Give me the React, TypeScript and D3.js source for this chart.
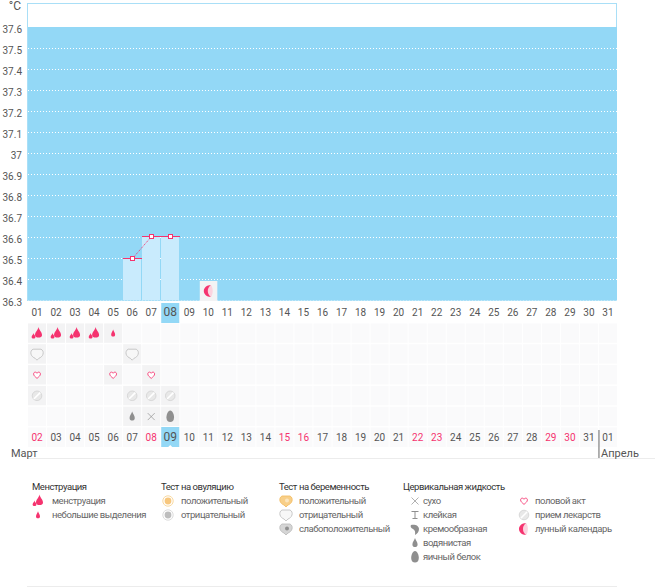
import * as d3 from 'd3';

const tempTicks = [37.6, 37.5, 37.4, 37.3, 37.2, 37.1, 37, 36.9, 36.8, 36.7, 36.6, 36.5, 36.4, 36.3];
const cycleDays = ['01','02','03','04','05','06','07','08','09','10','11','12','13','14','15','16','17','18','19','20','21','22','23','24','25','26','27','28','29','30','31'];
const calendarDays = ['02','03','04','05','06','07','08','09','10','11','12','13','14','15','16','17','18','19','20','21','22','23','24','25','26','27','28','29','30','31','01'];
const redDays = ['02','08','15','16','22','23','29','30'];

const tempDays = ['06', '07', '08'];
const tempValues = [36.5, 36.6, 36.6];
const moonDays = ['10'];

const rows = ['menses', 'pregnancy', 'sex', 'pill', 'fluid'];
const mensesRow = [['01','flow'],['02','flow'],['03','flow'],['04','flow'],['05','spot']];
const pregnancyRow = [['01','pregNeg'],['06','pregNeg']];
const sexRow = [['01','heart'],['05','heart'],['07','heart']];
const pillRow = [['01','pill'],['06','pill'],['07','pill'],['08','pill']];
const fluidRow = [['06','watery'],['07','dry'],['08','egg']];

const legendMenses = [['flow','менструация'],['spot','небольшие выделения']];
const legendOvulation = [['ovuPos','положительный'],['ovuNeg','отрицательный']];
const legendPregnancy = [['pregPos','положительный'],['pregNeg','отрицательный'],['pregWeak','слабоположительный']];
const legendFluid = [['dry','сухо'],['sticky','клейкая'],['creamy','кремообразная'],['watery','водянистая'],['egg','яичный белок']];
const legendOther = [['heart','половой акт'],['pill','прием лекарств'],['moon','лунный календарь']];

const FONT = 'Roboto, "Noto Sans", sans-serif';
const BLUE = '#93d8f6';
const PINK = '#f5336f';
const GREY = '#8f8f8f';
const TEXT = '#555';

const x = d3.scaleBand().domain(cycleDays).range([27.5, 617.5]);
const xBottom = d3.scaleBand().domain(calendarDays).range([27.5, 617.5]);
const y = d3.scaleLinear().domain([36.3, 37.6]).range([300, 27]);
// temperature marks sit on whole pixels, otherwise the pink goes grey over the blue
const yMark = d3.scaleLinear().domain([36.5, 36.6]).range([258.5, 236.5]);
const rowY = d3.scaleBand().domain(rows).range([323, 427]);
const cx = (d: string) => x(d)! + x.bandwidth() / 2;

const line = d3.line<number>()
  .x((_, i) => Math.round(cx(tempDays[i])) + 0.5)
  .y((d) => yMark(d));

// small glyphs, all drawn around 0,0
const Icon = ({ name, px, py }: { name: string; px: number; py: number }) => {
  const t = `translate(${px},${py})`;
  switch (name) {
    case 'flow':
      return (
        <g transform={t} fill={PINK}>
          <path d="M1.5,-6.5 C2.2,-3 5,-1.5 5,1.5 C5,3.5 3.4,4 1.5,4 C-0.4,4 -2,3.5 -2,1.5 C-2,-1.5 0.8,-3 1.5,-6.5Z" />
          <path d="M-3.5,-0.5 C-3.2,1.2 -1.6,2 -1.6,3.5 C-1.6,4.6 -2.5,5 -3.5,5 C-4.5,5 -5.4,4.6 -5.4,3.5 C-5.4,2 -3.8,1.2 -3.5,-0.5Z" />
        </g>
      );
    case 'spot':
      return <path transform={t} fill={PINK} d="M0,-3.8 C0.4,-2 2,-0.5 2,1.4 C2,2.8 1.1,3.2 0,3.2 C-1.1,3.2 -2,2.8 -2,1.4 C-2,-0.5 -0.4,-2 0,-3.8Z" />;
    case 'heart':
      return <path transform={`${t} scale(0.85)`} fill="#fff" stroke={PINK} strokeWidth={1} d="M0,4 C-2,2.2 -4,0.8 -4,-1.2 C-4,-2.8 -2.9,-3.4 -2,-3.4 C-1.1,-3.4 -0.4,-2.9 0,-2 C0.4,-2.9 1.1,-3.4 2,-3.4 C2.9,-3.4 4,-2.8 4,-1.2 C4,0.8 2,2.2 0,4Z" />;
    case 'pill':
      return (
        <g transform={t}>
          <circle r={4.8} fill="#e8e8e8" stroke="#cfcfcf" strokeWidth={0.7} />
          <line x1={-3.2} y1={3.2} x2={3.2} y2={-3.2} stroke="#fff" strokeWidth={1.6} />
        </g>
      );
    case 'dry':
      return <path transform={t} stroke={GREY} strokeWidth={0.7} d="M-3.5,-3.5 L3.5,3.5 M3.5,-3.5 L-3.5,3.5" />;
    case 'sticky':
      return <path transform={t} stroke={GREY} strokeWidth={1} fill="none" d="M-3.5,-3.5 H3.5 M0,-3.5 V3.5 M-2.5,3.5 H2.5" />;
    case 'creamy':
      return <path transform={t} fill={GREY} d="M-4,-4 C-1,-5 4,-4 4,0 C4,3 2,5 0,6 C0.5,3 0,1 -2,0 C-4,-0.5 -5,-3 -4,-4Z" />;
    case 'watery':
      return <path transform={t} fill={GREY} d="M0,-5 C0.8,-2.5 2.6,-1 2.6,1.5 C2.6,3.5 1.4,4 0,4 C-1.4,4 -2.6,3.5 -2.6,1.5 C-2.6,-1 -0.8,-2.5 0,-5Z" />;
    case 'egg':
      return <path transform={t} fill={GREY} d="M0,-6 C2.4,-6 3.8,-2 3.8,1 C3.8,4 2.2,5.5 0,5.5 C-2.2,5.5 -3.8,4 -3.8,1 C-3.8,-2 -2.4,-6 0,-6Z" />;
    case 'moon':
      return (
        <g transform={t}>
          <path fill="#fbd3df" d="M2,-6 C4.5,-4 4.5,4 2,6 C0,5 -1,2 -1,0 C-1,-2 0,-5 2,-6Z" />
          <path fill={PINK} d="M2,-6 C-2,-6 -5,-3.2 -5,0 C-5,3.2 -2,6 2,6 C-0.2,4.2 -1,2 -1,0 C-1,-2 -0.2,-4.2 2,-6Z" />
        </g>
      );
    case 'ovuPos':
    case 'ovuNeg': {
      const pos = name === 'ovuPos';
      return (
        <g transform={t}>
          <circle r={5.2} fill="#fff" stroke={pos ? '#f9d9a0' : '#dcdcdc'} strokeWidth={1} />
          <circle r={3.4} fill={pos ? '#f7c77e' : '#bdbdbd'} />
        </g>
      );
    }
    default: {
      // pregnancy test: rounded shield with a small tail
      const fill = name === 'pregPos' ? '#f8cf88' : name === 'pregWeak' ? '#d5d5d5' : '#f7f7f7';
      const stroke = name === 'pregPos' ? '#f3bd66' : name === 'pregWeak' ? '#bdbdbd' : '#c2c2c2';
      return (
        <g transform={t}>
          <path fill={fill} stroke={stroke} strokeWidth={0.9} d="M-4,-5 H4 C6,-4 6.5,-2 6,0 C5.5,2 3.5,3.5 2,4 L0,6 L-2,4 C-3.5,3.5 -5.5,2 -6,0 C-6.5,-2 -6,-4 -4,-5Z" />
          {name !== 'pregNeg' && <circle r={2} cx={1} cy={-0.5} fill={name === 'pregPos' ? '#fbe6bf' : '#8f8f8f'} />}
        </g>
      );
    }
  }
};

const Legend = ({ title, items, tx, ix, lx, ty, gap }: { title?: string; items: string[][]; tx: number; ix: number; lx: number; ty: number; gap: number }) => (
  <g fontSize={9.5} letterSpacing={-0.45}>
    {title && <text x={tx} y={487} dy="0.35em" fill="#333">{title}</text>}
    {items.map(([icon, label], i) => (
      <g key={label}>
        <Icon name={icon} px={ix} py={ty + i * gap} />
        <text x={lx} y={ty + i * gap} dy="0.35em" fill="#666">{label}</text>
      </g>
    ))}
  </g>
);

const rowData: [string, string[][]][] = [
  ['menses', mensesRow], ['pregnancy', pregnancyRow], ['sex', sexRow], ['pill', pillRow], ['fluid', fluidRow],
];

export default function App() {
  const bw = x.bandwidth();
  const rh = rowY.bandwidth();
  return (
    <svg width={655} height={587} style={{ position: 'absolute', left: 0, top: 0, background: '#fff' }} fontFamily={FONT}>
      {/* frame and plot background */}
      <rect x={27.5} y={3.5} width={589} height={297} fill="#fff" stroke="#a9dff7" />
      <rect x={28} y={y(37.6)} width={589} height={y(36.3) - y(37.6)} fill={BLUE} />
      {tempTicks.slice(1).map((t) => (
        <line key={t} x1={28} x2={617} y1={y(t) + 0.5} y2={y(t) + 0.5} stroke="#fff" strokeDasharray="1 2" />
      ))}
      <line x1={28} x2={617} y1={300.5} y2={300.5} stroke="#c2e9fa" strokeDasharray="1 2" />
      {tempTicks.map((t) => (
        <text key={t} x={22} y={y(t) + 2} dy="0.35em" textAnchor="end" fill={TEXT} fontSize={10}>{t}</text>
      ))}
      <text x={21} y={6} dy="0.35em" textAnchor="end" fill={TEXT} fontSize={12}>°C</text>

      {/* temperature bars */}
      {tempDays.map((d, i) => (
        <rect key={d} x={x(d)! + 0.5} width={bw - 1} y={yMark(tempValues[i]) - 0.5} height={300.5 - yMark(tempValues[i])} fill="#c9ebfd" shapeRendering="crispEdges" />
      ))}
      {tempDays.map((d, i) => (
        <line key={d} x1={x(d)!} x2={x(d)! + bw} y1={yMark(tempValues[i])} y2={yMark(tempValues[i])} stroke={PINK} shapeRendering="crispEdges" />
      ))}
      <path d={line(tempValues)!} fill="none" stroke={PINK} strokeDasharray="1 1" />
      {tempDays.map((d, i) => (
        <rect key={d} x={Math.round(cx(d)) - 1.5} y={yMark(tempValues[i]) - 2} width={4} height={4} fill="#fff" stroke={PINK} />
      ))}
      {moonDays.map((d) => (
        <g key={d}>
          <rect x={x(d)! + 1} y={281} width={bw - 1.5} height={20} fill="#f3f3f4" />
          <Icon name="moon" px={cx(d) + 0.5} py={291} />
        </g>
      ))}

      {/* upper date row */}
      <rect x={x('08')! + 0.5} y={303} width={bw - 1} height={20} fill={BLUE} />
      {cycleDays.map((d) => (
        <text key={d} x={cx(d)} y={312} dy="0.35em" textAnchor="middle" fill={TEXT} fontSize={d === '08' ? 12 : 10}>{d}</text>
      ))}

      {/* entry rows */}
      {rows.map((r) => cycleDays.map((d) => (
        <rect key={r + d} x={x(d)! + 0.5} y={rowY(r)! + 0.5} width={bw - 1} height={rh - 1.5} fill="#fafafb" />
      )))}
      {rowData.map(([r, items]) => items.map(([d, icon]) => (
        <g key={r + d}>
          <rect x={x(d)! + 0.5} y={rowY(r)! + 0.5} width={bw - 1} height={rh - 1.5} fill="#f3f3f4" />
          <Icon name={icon} px={cx(d)} py={rowY(r)! + rh / 2} />
        </g>
      )))}

      {/* calendar date row */}
      {calendarDays.map((d) => (
        <rect key={d} x={xBottom(d)! + 0.5} y={427.5} width={bw - 1} height={19.5} fill="#fafafb" />
      ))}
      <rect x={xBottom('09')! + 0.5} y={427} width={bw - 1} height={20} fill={BLUE} />
      <path d={d3.line()([[cx('08') - 2, 447], [cx('08'), 445], [cx('08') + 2, 447]])!} fill="#fff" />
      {calendarDays.map((d, i) => (
        <text key={d} x={xBottom(d)! + bw / 2} y={437} dy="0.35em" textAnchor="middle"
          fill={redDays.includes(d) && i < 30 ? PINK : TEXT} fontSize={d === '09' ? 12 : 10}>{d}</text>
      ))}

      {/* months */}
      <line x1={27} x2={655} y1={458.5} y2={458.5} stroke="#ececec" />
      <line x1={xBottom('01')! + 0.5} x2={xBottom('01')! + 0.5} y1={430} y2={458} stroke="#666" />
      <text x={11} y={453} dy="0.35em" fill={TEXT} fontSize={11}>Март</text>
      <text x={601} y={453} dy="0.35em" fill={TEXT} fontSize={11}>Апрель</text>

      {/* legend */}
      <Legend title="Менструация" items={legendMenses} tx={32} ix={38} lx={52} ty={501} gap={14} />
      <Legend title="Тест на овуляцию" items={legendOvulation} tx={161} ix={168} lx={181} ty={501} gap={14} />
      <Legend title="Тест на беременность" items={legendPregnancy} tx={279} ix={286} lx={299} ty={501} gap={14} />
      <Legend title="Цервикальная жидкость" items={legendFluid} tx={403} ix={415} lx={423} ty={501} gap={14} />
      <Legend items={legendOther} tx={520} ix={524} lx={535} ty={501} gap={14} />

      <line x1={27} x2={617} y1={586.5} y2={586.5} stroke="#ececec" />
    </svg>
  );
}
